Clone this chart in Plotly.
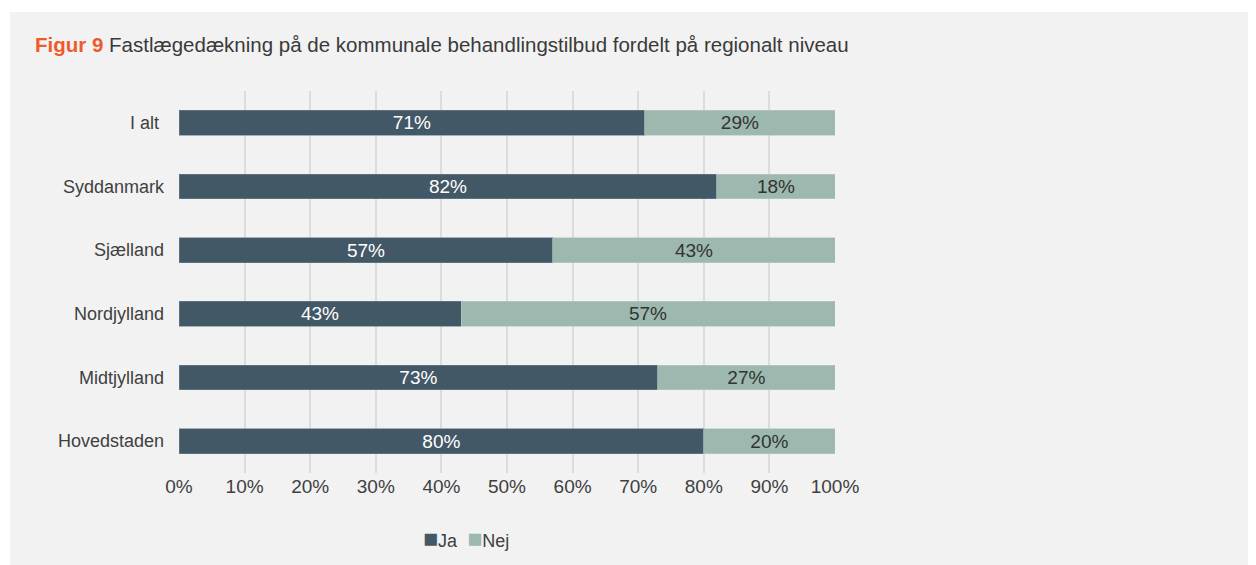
import plotly.graph_objects as go

# data (bottom to top, as plotly draws horizontal bars)
regioner = ["Hovedstaden", "Midtjylland", "Nordjylland", "Sjælland", "Syddanmark", "I alt\u00a0"]
ja = [80, 73, 43, 57, 82, 71]
nej = [20, 27, 57, 43, 18, 29]
tick_vals = [0, 10, 20, 30, 40, 50, 60, 70, 80, 90, 100]
tick_text = [f"{v}%" for v in tick_vals]

FONT = "Liberation Sans"
W, H = 1256, 565
# page adds an 8px body margin, so everything is placed 8px up/left
L, R, T, B = 171, 429, 83, 100
PW, PH = W - L - R, H - T - B

DARK = "#435866"
LIGHT = "#9db8ae"

fig = go.Figure()
fig.add_trace(go.Bar(
    y=regioner, x=ja, name="Ja", orientation="h",
    marker=dict(color=DARK, line=dict(color="#6f8290", width=0.6)),
    text=[f"{v}%" for v in ja], textposition="inside", insidetextanchor="middle",
    constraintext="none",
    textfont=dict(color="white", size=19, family=FONT),
))
fig.add_trace(go.Bar(
    y=regioner, x=nej, name="Nej", orientation="h",
    marker=dict(color=LIGHT, line=dict(color="#b9ccc5", width=0.6)),
    text=[f"{v}%" for v in nej], textposition="inside", insidetextanchor="middle",
    constraintext="none",
    textfont=dict(color="#333333", size=19, family=FONT),
))

# grey panel behind the whole chart
fig.add_shape(type="rect", xref="paper", yref="paper", layer="below",
              x0=(2 - L) / PW, x1=(W + 20 - L) / PW,
              y0=-(H + 20 - (H - B)) / PH, y1=1 + (T - 4) / PH,
              fillcolor="#f2f2f2", line=dict(width=0))

# legend drawn as text with coloured squares
fig.add_annotation(
    text=(f"<span style='color:{DARK};font-size:25px'>■</span>Ja\u00a0\u00a0"
          f"<span style='color:{LIGHT};font-size:25px'>■</span>Nej"),
    xref="paper", yref="paper", x=(413 - L) / PW, xanchor="left",
    y=-(530 - (H - B)) / PH, yanchor="middle", showarrow=False,
    font=dict(family=FONT, size=18, color="#404040"),
)

fig.update_layout(
    width=W, height=H,
    margin=dict(l=L, r=R, t=T, b=B),
    barmode="stack", bargap=0.61,
    paper_bgcolor="white", plot_bgcolor="#f2f2f2",
    font=dict(family=FONT, size=18, color="#404040"),
    title=dict(
        text="<b style='color:#ee5a2c'>Figur 9</b> Fastlægedækning på de kommunale behandlingstilbud fordelt på regionalt niveau",
        x=27 / W, xanchor="left", y=1 - 37 / H, yanchor="middle",
        font=dict(family=FONT, size=20.5, color="#3a3a3a"),
    ),
    xaxis=dict(range=[0, 100], tickvals=tick_vals, ticktext=tick_text,
               showgrid=True, gridcolor="#dcdcdc", gridwidth=2,
               zeroline=False, showline=False, ticks="", fixedrange=True,
               tickfont=dict(size=19, color="#404040")),
    yaxis=dict(showgrid=False, ticks="", ticklen=0, ticklabelstandoff=14,
               tickfont=dict(size=18, color="#404040")),
    showlegend=False,
)

fig.write_html("out.html")
